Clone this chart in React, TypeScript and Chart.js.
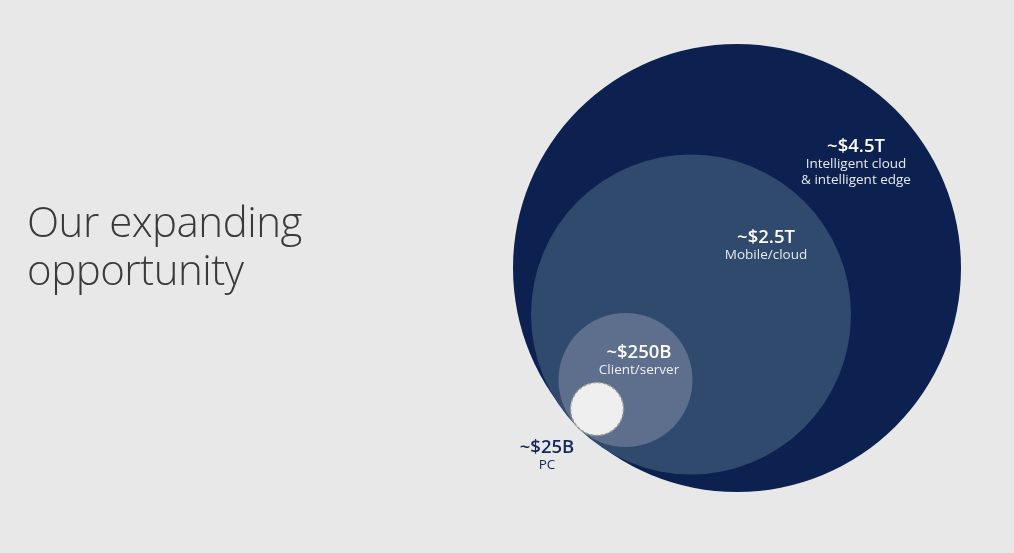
import React, { useEffect, useRef } from "react";
import { Chart, registerables } from "chart.js";

Chart.register(...registerables);

// Markets, largest to smallest
const marketValues = ["~$4.5T", "~$2.5T", "~$250B", "~$25B"];
const marketNames = [["Intelligent cloud", "& intelligent edge"], ["Mobile/cloud"], ["Client/server"], ["PC"]];
// circle centres and radii (chart units)
const centerX = [737, 691, 625.5, 597];
const centerY = [268, 314.5, 380, 409];
const radii = [224, 160, 67, 26.5];
// label anchor points (chart units)
const labelX = [856, 766, 639, 547];
const labelY = [147, 238, 353, 448];

const fills = ["#0c2150", "#304a6d", "#5d6f8c", "#efefef"];
const valueColors = ["#ffffff", "#ffffff", "#ffffff", "#13285a"];
const nameColors = ["#e6e9ef", "#e6e9ef", "#eef0f4", "#13285a"];

const BG = "#e8e8e8";
const ORDER = [3, 2, 1, 0]; // smallest dataset first -> drawn on top

const bgPlugin = {
  id: "bg",
  beforeDraw(chart: any) {
    const { ctx, width, height } = chart;
    ctx.save();
    ctx.fillStyle = BG;
    ctx.fillRect(0, 0, width, height);
    ctx.restore();
  },
  beforeDatasetDraw(chart: any, args: any) {
    if (args.meta.controller.getDataset().dashed) {
      chart.ctx.save();
      chart.ctx.setLineDash([3, 2]);
    }
  },
  afterDatasetDraw(chart: any, args: any) {
    if (args.meta.controller.getDataset().dashed) {
      chart.ctx.restore();
    }
  },
  afterDatasetsDraw(chart: any) {
    const { ctx, scales } = chart;
    ctx.save();
    ctx.textAlign = "center";
    ctx.textBaseline = "alphabetic";
    marketValues.forEach((v, i) => {
      const px = scales.x.getPixelForValue(labelX[i]);
      const py = scales.y.getPixelForValue(labelY[i]);
      ctx.fillStyle = valueColors[i];
      ctx.font = "600 18.5px 'Open Sans', sans-serif";
      ctx.fillText(v, px, py + 5);
      ctx.font = "400 13.5px 'Open Sans', sans-serif";
      ctx.fillStyle = nameColors[i];
      marketNames[i].forEach((n, j) => {
        ctx.fillText(n, px, py + 20.5 + j * 16);
      });
    });
    ctx.restore();
  },
};

function bubbleData(chart: any | null, i: number) {
  const pt: any = { x: centerX[i], y: centerY[i] };
  if (chart) {
    const xs = chart.scales.x;
    pt.r = Math.abs(xs.getPixelForValue(radii[i]) - xs.getPixelForValue(0));
  }
  return [pt];
}

export default function App() {
  const ref = useRef<HTMLCanvasElement>(null);
  useEffect(() => {
    document.body.style.margin = "0";
    document.body.style.background = BG;
    const chart = new Chart(ref.current!, {
      type: "bubble",
      data: {
        datasets: ORDER.map((i) => ({
          label: marketNames[i].join(" "),
          data: bubbleData(null, i),
          radius: 0,
          backgroundColor: fills[i],
          borderColor: i === 3 ? "#9a9a9a" : fills[i],
          borderWidth: i === 3 ? 1.5 : 0,
          dashed: i === 3,
          clip: false,
        })) as any,
      },
      options: {
        animation: false,
        responsive: false,
        layout: { padding: 0, autoPadding: false },
        plugins: { legend: { display: false }, tooltip: { enabled: false } },
        events: [],
        scales: {
          x: { type: "linear", display: false, min: 0, max: 1014 },
          y: { type: "linear", display: false, min: 0, max: 553, reverse: true },
        },
      } as any,
      plugins: [bgPlugin],
    });
    // second pass: bubble radii (chart units) converted through the laid-out x scale
    chart.data.datasets.forEach((ds: any, k: number) => {
      ds.data = bubbleData(chart, ORDER[k]);
    });
    chart.update("none");
    return () => chart.destroy();
  }, []);
  return (
    <div style={{ position: "relative", width: 1014, height: 553, background: BG }}>
      <canvas ref={ref} width={1014} height={553} style={{ display: "block" }} />
      <div
        style={{
          position: "absolute",
          left: 27,
          top: 197,
          fontFamily: "'Open Sans', sans-serif",
          fontWeight: 300,
          fontSize: 42,
          lineHeight: "48px",
          color: "#3a3a3a",
          letterSpacing: "-0.5px",
        }}
      >
        Our expanding
        <br />
        opportunity
      </div>
    </div>
  );
}
